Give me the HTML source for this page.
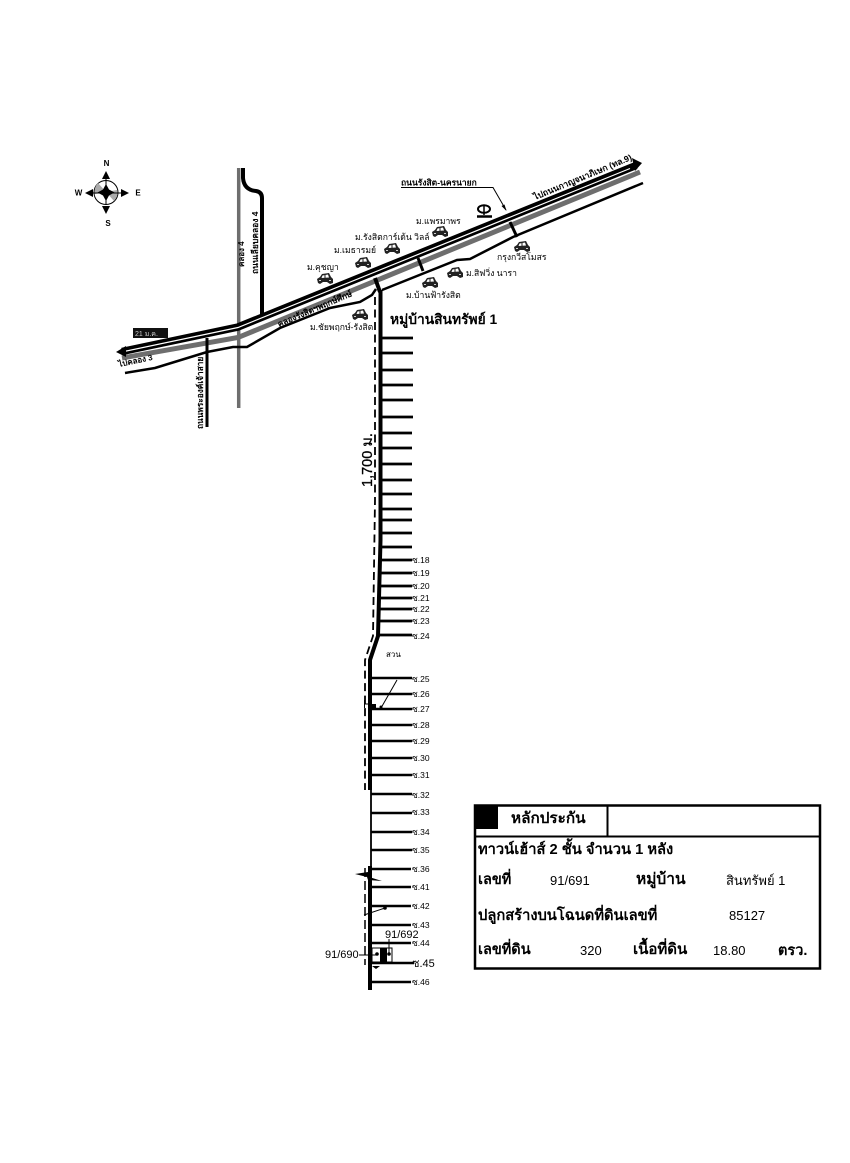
<!DOCTYPE html>
<html><head><meta charset="utf-8"><style>
html,body{margin:0;padding:0;background:#fff}
svg{display:block}
text{font-family:"Liberation Sans","Noto Sans CJK SC",sans-serif;fill:#000}
.b{font-weight:bold}
</style></head><body>
<svg width="850" height="1163" viewBox="0 0 850 1163" xmlns="http://www.w3.org/2000/svg">
<defs>
<g id="car">
<path d="M1 10L0 6 3 4 5 1 12 0 14 4 16 6 16 10 13 11 10 9 6 9 3 11z" fill="#222"/>
<path d="M5.500 2.500L11 1.500 12 4.500 4.500 5z" fill="#fff"/>
<path d="M8 1.500V5M2 7h3M12 7h3" stroke="#222" stroke-width="1" fill="none"/>
<path d="M2 7.500h2M12 7.500h2" stroke="#ccc" stroke-width="1" fill="none"/>
</g>
</defs>
<rect width="850" height="1163" fill="#fff"/>
<!-- compass -->
<g>
<circle cx="106" cy="192.500" r="12" fill="#fff" stroke="#000" stroke-width="1"/>
<path d="M98 183a12 12 0 0 0-3 11l11-2zM114 201a12 12 0 0 0 3-11l-11 2z" fill="#aaa"/>
<path d="M106 184l3 5.500 5.500 3-5.500 3-3 5.500-3-5.500-5.500-3 5.500-3z" fill="#000"/>
<path d="M106 171l-4 8h8zM106 214l-4-8h8zM85 193l8-4v8zM129 193l-8-4v8z" fill="#000"/>
<path d="M106 179v26M93 193h28" stroke="#000" stroke-width="1"/>
<text x="106.500" y="166" font-size="8" class="b" text-anchor="middle">N</text>
<text x="108" y="226" font-size="8" class="b" text-anchor="middle">S</text>
<text x="78.500" y="195.500" font-size="8" class="b" text-anchor="middle">W</text>
<text x="138" y="195.500" font-size="8" class="b" text-anchor="middle">E</text>
</g>
<!-- grey roads -->
<path d="M238.700 168V408" stroke="#6e6e6e" stroke-width="3.500" fill="none"/>
<path d="M122 358L238 337.500 640 172" stroke="#6e6e6e" stroke-width="5" fill="none"/>
<!-- side roads -->
<path d="M243 168V178Q244 190 256 191Q262 192 262 198V316" stroke="#000" stroke-width="4" fill="none"/>
<path d="M207 338V427" stroke="#000" stroke-width="3" fill="none"/>
<!-- main highway -->
<path d="M122 351.500L238 327 636 165.500" stroke="#000" stroke-width="7.500" fill="none"/>
<path d="M124 351.500L238 327.500 630 168.500" stroke="#fff" stroke-width="1.200" fill="none"/>
<path d="M116 352l10-6v11zM642 163l-10-5 3 13z" fill="#000"/>
<!-- lower frontage -->
<path d="M125 373L155 368 207 352 233 347 247 347 280 328 330 308 360 302 372 295 376 289" stroke="#000" stroke-width="2.500" fill="none"/>
<path d="M382 290L457 260 470 259 513 237 643 183" stroke="#000" stroke-width="2.500" fill="none"/>
<!-- connectors across -->
<path d="M375 278L380 292" stroke="#000" stroke-width="4"/>
<path d="M418 258L423 271" stroke="#000" stroke-width="3"/>
<path d="M510 222L517 237" stroke="#000" stroke-width="3"/>
<!-- main soi -->
<path d="M380.500 290V540L378 636 370 660V790" stroke="#000" stroke-width="4" fill="none"/>
<path d="M371 790V866" stroke="#000" stroke-width="1.800" fill="none"/>
<path d="M370 866V990" stroke="#000" stroke-width="4" fill="none"/>
<!-- dashed -->
<path d="M375 297V500L373 636 365 660V790" stroke="#000" stroke-width="1.800" stroke-dasharray="8 4.500" fill="none"/>
<path d="M365 868V965" stroke="#000" stroke-width="1.500" stroke-dasharray="9 4" fill="none"/>
<!-- ticks upper -->
<path stroke="#000" stroke-width="2.800" fill="none" d="M381 338H413M381 353H413M381 370H413M381 385H413M381 400H413M381 417H413M381 433H412M381 448H412M381 464H412M381 480H412M381 494H412M381 509H412M381 520H412M381 533H412M381 547H412M380 560H412M380 573H412M380 586H412M380 598H412M379 609H412M379 621H412M379 635H412"/>
<!-- ticks lower -->
<path stroke="#000" stroke-width="2.500" fill="none" d="M371 678H412M371 694H412M371 709H412M371 725H412M371 741H412M371 758H412M371 775H412M371 794H412M371 813H412M371 832H412M371 850H412M371 869H411M371 887H411M371 906H411M371 925H411M371 943H411M371 963H414M371 982H411"/>
<!-- soi labels -->
<g font-size="8.500">
<text x="412" y="563">ซ.18</text><text x="412" y="576">ซ.19</text><text x="412" y="589">ซ.20</text><text x="412" y="601">ซ.21</text><text x="412" y="612">ซ.22</text><text x="412" y="624">ซ.23</text><text x="412" y="639">ซ.24</text>
<text x="412" y="682">ซ.25</text><text x="412" y="697">ซ.26</text><text x="412" y="712">ซ.27</text><text x="412" y="728">ซ.28</text><text x="412" y="744">ซ.29</text><text x="412" y="761">ซ.30</text><text x="412" y="778">ซ.31</text><text x="412" y="798">ซ.32</text><text x="412" y="815">ซ.33</text><text x="412" y="835">ซ.34</text><text x="412" y="853">ซ.35</text><text x="412" y="872">ซ.36</text><text x="412" y="890">ซ.41</text><text x="412" y="909">ซ.42</text><text x="412" y="928">ซ.43</text><text x="412" y="946">ซ.44</text><text x="412" y="985">ซ.46</text>
</g>
<text x="412" y="967" font-size="11">ซ.45</text>
<text x="386" y="657" font-size="8">สวน</text>
<!-- arrows on soi -->
<path d="M397 680L381 708" stroke="#000" stroke-width="1" fill="none"/>
<circle cx="381" cy="707" r="1.500" fill="#000"/><rect x="371" y="704" width="5" height="4" fill="#000"/>
<path d="M364.500 700V708M365 704H372" stroke="#000" stroke-width="1"/>
<path d="M355 874L368 872 369 877 382 881 368 880 367 877z" fill="#000"/>
<path d="M364 915L385 908" stroke="#000" stroke-width="1" fill="none"/><circle cx="385" cy="908" r="1.800" fill="#000"/>
<!-- plots -->
<rect x="372" y="948" width="20" height="14" fill="#fff" stroke="#000" stroke-width="1"/>
<rect x="380" y="948" width="7" height="14" fill="#000"/>
<circle cx="377" cy="954" r="1.800" fill="#000"/><circle cx="389" cy="954" r="1.800" fill="#000"/>
<path d="M359 955H376M389 939V955" stroke="#000" stroke-width="1"/>
<path d="M372 966l8 0-4 3z" fill="#000"/>
<text x="385" y="938" font-size="11">91/692</text>
<text x="325" y="958" font-size="11">91/690</text>
<!-- dimension -->
<text transform="translate(372 487) rotate(-90)" font-size="14.500" stroke="#000" stroke-width=".3">1,700 ม.</text>
<!-- title -->
<text x="390" y="324" font-size="13.800" class="b">หมู่บ้านสินทรัพย์ 1</text>
<!-- road labels -->
<g font-size="8" class="b">
<text transform="translate(244 267) rotate(-90)">คลอง 4</text>
<text transform="translate(258 274) rotate(-90)" font-size="8.500">ถนนเลียบคลอง 4</text>
<text transform="translate(203 429) rotate(-90)" font-size="8.300">ถนนพระองค์เจ้าสาย</text>
<text transform="translate(279 327) rotate(-23)" font-size="8.300">คลองรังสิตฯพฤกษ์ศึกษ์</text>
<text transform="translate(119 367) rotate(-12)">ไปคลอง 3</text>
<text transform="translate(535 200) rotate(-22.500)" font-size="8.600">ไปถนนกาญจนาภิเษก (ทล.9)</text>
</g>
<rect x="133" y="328" width="35" height="10" fill="#111"/>
<text x="135" y="336" font-size="7" style="fill:#ccc">21 ม.ค.</text>
<!-- road name callout -->
<text x="401" y="185.500" font-size="8.500" class="b">ถนนรังสิต-นครนายก</text>
<path d="M401 187.500H493L506 210" stroke="#000" stroke-width="1" fill="none"/>
<path d="M506.500 211l-5-5 3-1.500z" fill="#000"/>
<!-- village icons -->
<use href="#car" x="317" y="273"/><use href="#car" x="384" y="243"/><use href="#car" x="355" y="257"/><use href="#car" x="432" y="226"/><use href="#car" x="352" y="309"/><use href="#car" x="422" y="277"/><use href="#car" x="447" y="267"/><use href="#car" x="514" y="241"/>
<ellipse cx="484" cy="209" rx="6" ry="3.800" fill="none" stroke="#000" stroke-width="2"/>
<path d="M477 216.500h15" stroke="#000" stroke-width="2.500"/><path d="M484 206v9" stroke="#000" stroke-width="1.500"/>
<!-- village labels -->
<g font-size="8.600">
<text x="307" y="270">ม.คุชญา</text>
<text x="334" y="253">ม.เมธารมย์</text>
<text x="355" y="240">ม.รังสิตการ์เด้น วิลล์</text>
<text x="416" y="224">ม.แพรมาพร</text>
<text x="497" y="260">กรุงกวีสโมสร</text>
<text x="466" y="276">ม.สิฟวิ่ง นารา</text>
<text x="406" y="298">ม.บ้านฟ้ารังสิต</text>
<text x="310" y="330">ม.ชัยพฤกษ์-รังสิต</text>
</g>
<!-- legend -->
<rect x="475" y="805.500" width="345" height="163" fill="#fff" stroke="#000" stroke-width="2.500"/>
<path d="M475 836.500H820M607.500 805.500V836.500" stroke="#000" stroke-width="2" fill="none"/>
<rect x="476" y="806" width="22" height="23" fill="#000"/>
<text x="511" y="823" font-size="15.300" class="b">หลักประกัน</text>
<text x="478" y="854" font-size="14.700" class="b">ทาวน์เฮ้าส์ 2 ชั้น จำนวน 1 หลัง</text>
<text x="478" y="884" font-size="14.500" class="b">เลขที่</text>
<text x="550" y="885" font-size="13">91/691</text>
<text x="636" y="884" font-size="15.500" class="b">หมู่บ้าน</text>
<text x="726" y="885" font-size="13">สินทรัพย์ 1</text>
<text x="478" y="920" font-size="14.700" class="b">ปลูกสร้างบนโฉนดที่ดินเลขที่</text>
<text x="729" y="920" font-size="13">85127</text>
<text x="478" y="954" font-size="14.500" class="b">เลขที่ดิน</text>
<text x="580" y="955" font-size="13">320</text>
<text x="633" y="954" font-size="15" class="b">เนื้อที่ดิน</text>
<text x="713" y="955" font-size="13">18.80</text>
<text x="778" y="955" font-size="14.500" class="b">ตรว.</text>
</svg>
</body></html>
